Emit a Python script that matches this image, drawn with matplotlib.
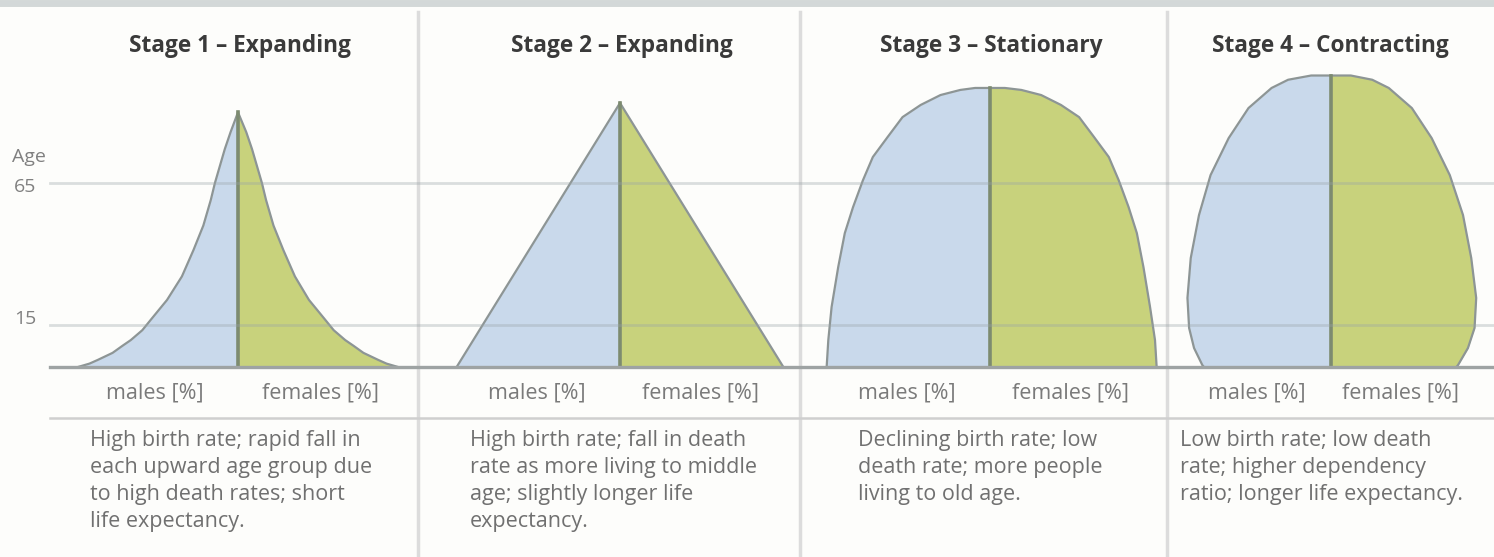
import numpy as np
import matplotlib.pyplot as plt

W, H = 1494, 557
BASE_PX = 367        # pixel row of age 0
PX_PER_YEAR = 2.83
PX_PER_PCT = 16.5

# --- data: age (years) vs. share (%) ---
stages = ['Stage 1 \u2013 Expanding', 'Stage 2 \u2013 Expanding',
          'Stage 3 \u2013 Stationary', 'Stage 4 \u2013 Contracting']

s1_age = [0, 1.2, 2.5, 5, 7.5, 9.5, 13, 17.3, 23.7, 32, 41.3, 50, 59, 65, 71, 77, 83, 90]
s1_male = [9.7, 9.0, 8.5, 7.6, 7.0, 6.5, 5.8, 5.2, 4.3, 3.4, 2.7, 2.1, 1.65, 1.4, 1.1, 0.8, 0.45, 0]
s1_female = [9.7, 9.0, 8.5, 7.6, 7.0, 6.5, 5.8, 5.2, 4.3, 3.45, 2.75, 2.15, 1.7, 1.45, 1.15, 0.85, 0.5, 0]

s2_age = [0, 93.3]
s2_male = [9.9, 0]
s2_female = [9.9, 0]

s3_age = [0, 9.5, 21.2, 35.3, 47.3, 56.5, 66, 74.2, 81.3, 88.3, 92.6, 96.1, 97.9, 98.6, 98.6]
s3_male = [9.9, 9.8, 9.6, 9.2, 8.8, 8.3, 7.7, 7.1, 6.2, 5.3, 4.2, 3.0, 1.8, 0.9, 0]
s3_female = [10.1, 10.0, 9.7, 9.3, 8.9, 8.4, 7.8, 7.2, 6.3, 5.4, 4.3, 3.1, 1.9, 0.9, 0]

s4_age = [0, 0.7, 6.7, 13.8, 24.4, 38.5, 53.7, 67.8, 80.9, 91.5, 98.6, 101.5, 103, 103]
s4_male = [7.7, 7.8, 8.3, 8.6, 8.7, 8.5, 8.0, 7.3, 6.2, 5.0, 3.6, 2.6, 1.2, 0]
s4_female = [7.6, 7.7, 8.3, 8.7, 8.8, 8.5, 8.0, 7.2, 6.1, 4.9, 3.5, 2.5, 1.2, 0]

ages = [s1_age, s2_age, s3_age, s4_age]
males = [s1_male, s2_male, s3_male, s4_male]
females = [s1_female, s2_female, s3_female, s4_female]

descriptions = [
    'High birth rate; rapid fall in\neach upward age group due\nto high death rates; short\nlife expectancy.',
    'High birth rate; fall in death\nrate as more living to middle\nage; slightly longer life\nexpectancy.',
    'Declining birth rate; low\ndeath rate; more people\nliving to old age.',
    'Low birth rate; low death\nrate; higher dependency\nratio; longer life expectancy.',
]
guide_ages = [15, 65]

# --- layout (pixels) ---
panels = [(0, 418), (418, 800), (800, 1167), (1167, W)]
centers = [238, 620, 990, 1331]
title_x = [240, 622, 991, 1330]
male_lbl_x = [155, 537, 907, 1257]
female_lbl_x = [320, 700, 1071, 1401]
desc_x = [90, 470, 858, 1180]

BLUE = '#c9d9eb'
GREEN = '#c8d27c'
EDGE = '#8d9595'
MID = '#7d8b70'

plt.rcParams['font.family'] = ['Open Sans', 'DejaVu Sans']

fig = plt.figure(figsize=(W / 100, H / 100), dpi=100)
fig.patch.set_facecolor('#fdfdfb')

age_lo = (BASE_PX - H) / PX_PER_YEAR
age_hi = BASE_PX / PX_PER_YEAR

# background frame in pixel coordinates
bg = fig.add_axes([0, 0, 1, 1])
bg.set_xlim(0, W)
bg.set_ylim(H, 0)
bg.axis('off')
bg.axhline(3, color='#d3d8d8', lw=5)
for left, right in panels[1:]:
    bg.plot([left, left], [12, H], color='#dcdcdc', lw=2.5)
bg.plot([50, W], [418, 418], color='#cfcfcf', lw=1.8)

for i in range(4):
    left, right = panels[i]
    c = centers[i]
    ax = fig.add_axes([left / W, 0, (right - left) / W, 1])
    ax.patch.set_alpha(0)
    ax.axis('off')
    ax.set_ylim(age_lo, age_hi)
    ax.set_xlim(-(c - left) / PX_PER_PCT, (right - c) / PX_PER_PCT)
    a = np.array(ages[i])
    m = np.array(males[i])
    f = np.array(females[i])
    ax.fill_betweenx(a, -m, 0, color=BLUE, lw=0)
    ax.fill_betweenx(a, 0, f, color=GREEN, lw=0)
    ax.plot(-m, a, color=EDGE, lw=1.6, solid_joinstyle='round')
    ax.plot(f, a, color=EDGE, lw=1.6, solid_joinstyle='round')
    ax.plot([0, 0], [0, a.max()], color=MID, lw=2.6)

    fig.text(title_x[i] / W, 1 - 46 / H, stages[i], ha='center', va='center',
             fontsize=16.3, fontweight='bold', color='#3a3a3a')
    fig.text(male_lbl_x[i] / W, 1 - 393 / H, 'males [%]', ha='center', va='center',
             fontsize=15.5, color='#7a7a7a')
    fig.text(female_lbl_x[i] / W, 1 - 393 / H, 'females [%]', ha='center', va='center',
             fontsize=15.5, color='#7a7a7a')
    fig.text(desc_x[i] / W, 1 - 430 / H, descriptions[i], ha='left', va='top',
             fontsize=15.5, color='#707070', linespacing=1.38)

# overlay: age guide lines and baseline on top of the shapes
ov = fig.add_axes([0, 0, 1, 1])
ov.patch.set_alpha(0)
ov.axis('off')
ov.set_xlim(0, W)
ov.set_ylim(age_lo, age_hi)
for g in guide_ages:
    ov.axhline(g, xmin=50 / W, xmax=1, color='#9aa4a8', lw=2, alpha=0.35)
ov.axhline(0, xmin=50 / W, xmax=1, color='#9ea3a3', lw=2.4)
ov.text(14, 17, str(guide_ages[0]), ha='left', va='center', fontsize=14, color='#808080')
ov.text(14, 63.6, str(guide_ages[1]), ha='left', va='center', fontsize=14, color='#808080')
ov.text(12, 74.2, 'Age', ha='left', va='center', fontsize=14, color='#808080')

fig.savefig('out.png', dpi=100, facecolor=fig.get_facecolor())
